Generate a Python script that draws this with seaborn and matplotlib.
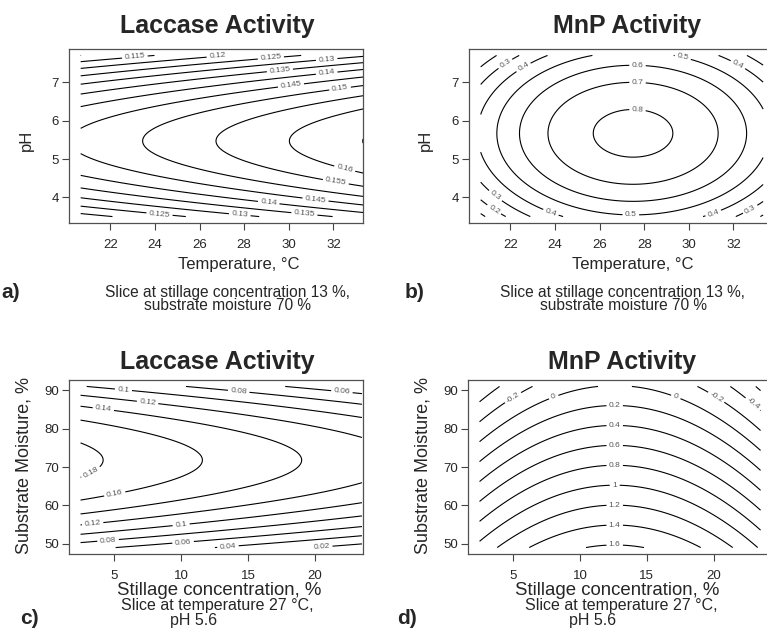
import numpy as np
import matplotlib
matplotlib.use("Agg")
import matplotlib.pyplot as plt
import seaborn as sns

# ranges of the design variables (data extent of each slice)
temp_range = [20.67, 33.33]
ph_range = [3.5, 7.7]
stillage_range = [2.5, 23.5]
moisture_range = [49.0, 91.0]

# response surface:
# value = c0 + cx*(x-x0) + cy*(y-y0) + cxx*(x-x0)^2 + cyy*(y-y0)^2
# order: x0, y0, c0, cx, cy, cxx, cyy
laccase_temp_ph = [27.0, 5.47, 0.1554, 0.00152, 0.0, 0.0, -0.0072]
mnp_temp_ph = [27.5, 5.67, 0.828, 0.0, 0.0, -0.0088, -0.0725]
laccase_still_moist = [13.0, 71.8, 0.1562, -0.0027, 0.0, 0.0, -0.000226]
mnp_still_moist = [12.62, 70.45, 0.8, 0.0, -0.0385, -0.0055, 0.0]

laccase_tp_levels = [0.11, 0.115, 0.12, 0.125, 0.13, 0.135, 0.14, 0.145,
                     0.15, 0.155, 0.16, 0.165]
mnp_tp_levels = [0.1, 0.2, 0.3, 0.4, 0.5, 0.6, 0.7, 0.8]
laccase_sm_levels = [0.02, 0.04, 0.06, 0.08, 0.1, 0.12, 0.14, 0.16, 0.18]
mnp_sm_levels = [-0.6, -0.4, -0.2, 0.0, 0.2, 0.4, 0.6, 0.8, 1.0, 1.2, 1.4, 1.6]

temp_ticks = [22, 24, 26, 28, 30, 32]
ph_ticks = [4, 5, 6, 7]
stillage_ticks = [5, 10, 15, 20]
moisture_ticks = [50, 60, 70, 80, 90]

sns.set_style("ticks")
plt.rcParams["font.family"] = ["Liberation Sans", "DejaVu Sans"]

W, H = 767, 629
fig = plt.figure(figsize=(W / 100, H / 100), dpi=100)


def add_ax(left, top, right, bottom):
    return fig.add_axes([left / W, 1 - bottom / H, (right - left) / W, (bottom - top) / H])


def text(x, y, s, size, ha="center", weight="normal", rotation=0, va="baseline", **kw):
    fig.text(x / W, 1 - y / H, s, fontsize=size, ha=ha, va=va,
             fontweight=weight, rotation=rotation, **kw)


def surface(coef, xr, yr, n=240):
    x0, y0, c0, cx, cy, cxx, cyy = coef
    X, Y = np.meshgrid(np.linspace(xr[0], xr[1], n), np.linspace(yr[0], yr[1], n))
    dx, dy = X - x0, Y - y0
    return X, Y, c0 + cx * dx + cy * dy + cxx * dx ** 2 + cyy * dy ** 2


def draw(ax, coef, xr, yr, levels, xlim, ylim, xticks, yticks, label_at):
    X, Y, Z = surface(coef, xr, yr)
    cs = ax.contour(X, Y, Z, levels=levels, colors="black", linewidths=0.8,
                    negative_linestyles="solid")
    ax.clabel(cs, fmt=lambda v: f"{v:g}", fontsize=6, colors="#555555",
              inline=True, inline_spacing=3, manual=label_at)
    ax.set_xlim(xlim)
    ax.set_ylim(ylim)
    ax.set_xticks(xticks)
    ax.set_yticks(yticks)
    ax.tick_params(axis="x", direction="out", length=5, width=0.8, color="#444444",
                   labelsize=9.5, pad=6.5)
    ax.tick_params(axis="y", direction="out", length=5, width=0.8, color="#444444",
                   labelsize=9.5, pad=2.4)
    for sp in ax.spines.values():
        sp.set_color("#505050")
        sp.set_linewidth(0.9)
    ax.set_xlabel("")
    ax.set_ylabel("")


# where the contour labels sit, roughly as in the original
labels_a = [(23.1, 7.66), (26.8, 7.68), (29.2, 7.61), (31.7, 7.58), (29.6, 7.31),
            (31.7, 7.23), (30.1, 6.91), (32.3, 6.83), (32.5, 4.73), (32.1, 4.38),
            (31.2, 3.95), (29.1, 3.87), (30.7, 3.58), (27.8, 3.54), (24.2, 3.54)]
labels_b = [(21.8, 7.46), (22.6, 7.38), (27.7, 7.45), (27.7, 7.0), (27.7, 6.29),
            (29.7, 7.58), (32.2, 7.46), (21.3, 4.02), (21.3, 3.71), (23.8, 3.58),
            (27.4, 3.52), (31.1, 3.58), (32.75, 3.69)]
labels_c = [(5.7, 90.1), (14.3, 89.6), (22.0, 89.5), (7.5, 86.8), (4.2, 85.0),
            (3.2, 69.0), (5.05, 63.0), (3.4, 55.3), (10.0, 55.1), (4.55, 51.0),
            (10.15, 50.5), (13.5, 49.25), (20.5, 49.15)]
labels_d = [(5.0, 88.1), (8.0, 88.6), (12.6, 86.1), (12.6, 81.0), (12.6, 75.7),
            (12.6, 70.45), (12.6, 65.3), (12.6, 60.0), (12.6, 54.9), (12.6, 49.7),
            (17.2, 88.6), (20.1, 87.7), (22.8, 85.9)]

# a) laccase, temperature x pH
ax_a = add_ax(69.3, 49, 363.3, 223)
draw(ax_a, laccase_temp_ph, temp_range, ph_range, laccase_tp_levels,
     (20.16, 33.34), (3.332, 7.868), temp_ticks, ph_ticks, labels_a)

# b) MnP, temperature x pH (right edge runs past the picture)
ax_b = add_ax(469.3, 49, 774.5, 223)
draw(ax_b, mnp_temp_ph, temp_range, ph_range, mnp_tp_levels,
     (20.16, 33.84), (3.332, 7.868), temp_ticks, ph_ticks, labels_b)

# c) laccase, stillage x moisture
ax_c = add_ax(69.3, 380, 363.3, 554)
draw(ax_c, laccase_still_moist, stillage_range, moisture_range, laccase_sm_levels,
     (1.66, 23.60), (47.32, 92.68), stillage_ticks, moisture_ticks, labels_c)

# d) MnP, stillage x moisture
ax_d = add_ax(468.3, 380, 771.8, 554)
draw(ax_d, mnp_still_moist, stillage_range, moisture_range, mnp_sm_levels,
     (1.66, 24.34), (47.32, 92.68), stillage_ticks, moisture_ticks, labels_d)

# titles
text(217.5, 32.7, "Laccase Activity", 18, weight="bold")
text(626.7, 32.7, "MnP Activity", 18, weight="bold")
text(217.5, 369.3, "Laccase Activity", 18, weight="bold")
text(621.7, 369.3, "MnP Activity", 18, weight="bold")

# axis labels
text(239, 269.3, "Temperature, °C", 12)
text(632.5, 269.3, "Temperature, °C", 12)
text(219, 595, "Stillage concentration, %", 13.4)
text(617.5, 595, "Stillage concentration, %", 13.4)
text(26.7, 140, "pH", 12, rotation=90, va="center")
text(425, 140, "pH", 12, rotation=90, va="center")
text(24, 466, "Substrate Moisture, %", 13, rotation=90, va="center")
text(422.5, 466, "Substrate Moisture, %", 13, rotation=90, va="center")

# slice captions
slice_tp = "Slice at stillage concentration 13 %,\nsubstrate moisture 70 %"
text(228, 285.5, slice_tp, 11.2, va="top", multialignment="center", linespacing=0.78)
text(623, 285.5, slice_tp, 11.2, va="top", multialignment="center", linespacing=0.78)
text(217.5, 610, "Slice at temperature 27 °C,", 11.5)
text(193.3, 624.5, "pH 5.6", 11.5)
text(621.7, 610, "Slice at temperature 27 °C,", 11.5)
text(592.5, 624.5, "pH 5.6", 11.5)

# panel letters
text(1, 297.7, "a)", 15, ha="left", weight="bold")
text(405, 297.7, "b)", 15, ha="left", weight="bold")
text(20, 624, "c)", 15, ha="left", weight="bold")
text(396.7, 624, "d)", 15, ha="left", weight="bold")

fig.savefig("out.png", dpi=100)
